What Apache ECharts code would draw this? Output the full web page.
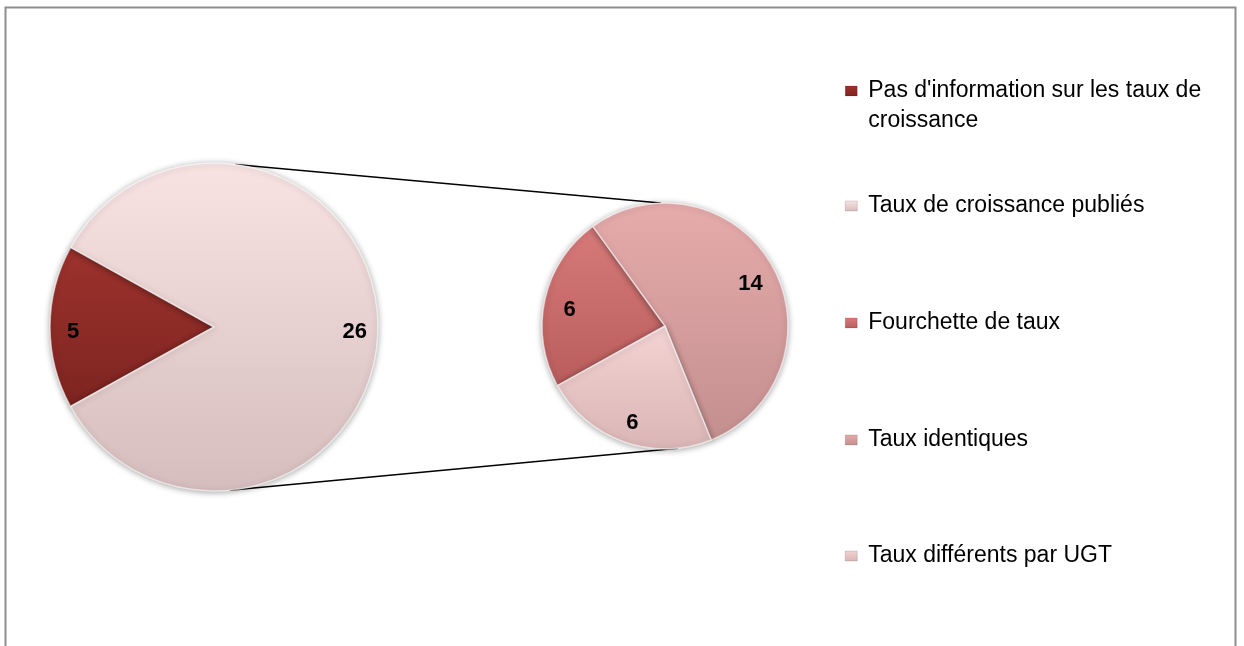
<!DOCTYPE html>
<html>
<head>
<meta charset="utf-8">
<script src="https://cdn.jsdelivr.net/npm/echarts@6/dist/echarts.min.js"></script>
<style>
  html, body { margin: 0; padding: 0; background: #ffffff; }
  #chart { width: 1244px; height: 646px; }
</style>
</head>
<body>
<div id="chart"></div>
<script>
// ---- Data ----
const primaryCategories = ["Pas d'information sur les taux de croissance", "Taux de croissance publiés"];
const primaryValues = [5, 26];
const secondaryCategories = ["Fourchette de taux", "Taux identiques", "Taux différents par UGT"];
const secondaryValues = [6, 14, 6];

// ---- Styles ----
const colorsTop = {
  "Pas d'information sur les taux de croissance": '#9c322d',
  "Taux de croissance publiés": '#f8e3e3',
  "Fourchette de taux": '#d77a7a',
  "Taux identiques": '#e6abab',
  "Taux différents par UGT": '#f3d3d3'
};
const colorsBottom = {
  "Pas d'information sur les taux de croissance": '#7e2420',
  "Taux de croissance publiés": '#d6bdbd',
  "Fourchette de taux": '#b85c5c',
  "Taux identiques": '#c48f8f',
  "Taux différents par UGT": '#dab5b5'
};
function grad(name) {
  return new echarts.graphic.LinearGradient(0, 0, 0, 1, [
    { offset: 0, color: colorsTop[name] },
    { offset: 1, color: colorsBottom[name] }
  ]);
}

const leftC = [214, 327], leftR = 164;
const rightC = [665, 326], rightR = 123;
const labelDy = 5;
function polar(c, r, deg) {
  const a = deg * Math.PI / 180;
  return [c[0] + r * Math.cos(a), c[1] - r * Math.sin(a)];
}

const FONT = "'Liberation Sans', Arial, sans-serif";
const sliceStyle = {
  borderColor: 'rgba(255,255,255,0.6)',
  borderWidth: 1.5,
  shadowBlur: 6,
  shadowColor: 'rgba(0,0,0,0.35)',
  shadowOffsetY: 1
};

function mkData(names, vals) {
  return names.map((n, i) => ({ name: n, value: vals[i], itemStyle: { color: grad(n) } }));
}
function mkLabelData(names, vals) {
  return names.map((n, i) => ({ name: n, value: vals[i] }));
}

const labelStyle = {
  show: true, position: 'inside', formatter: '{c}',
  color: '#000', fontFamily: FONT, fontWeight: 'bold', fontSize: 22
};

const allNames = primaryCategories.concat(secondaryCategories);
const legendCenters = [91, 206, 323, 440, 556];
const legends = allNames.map((n, i) => {
  const first = i === 0;
  return {
    orient: 'vertical',
    left: 845,
    top: first ? legendCenters[i] - 45 : legendCenters[i] - 14,
    padding: 0,
    itemWidth: 12,
    itemHeight: 10,
    icon: 'rect',
    selectedMode: false,
    data: [{ name: n, itemStyle: { color: grad(n), borderColor: 'rgba(0,0,0,0.25)', borderWidth: 0.5 } }],
    formatter: first ? (name => '\n' + name) : (name => name),
    textStyle: first ? {
      fontFamily: FONT, fontSize: 23, color: '#000', lineHeight: 30,
      width: 345, overflow: 'break', padding: [0, 0, 0, 6]
    } : {
      fontFamily: FONT, fontSize: 23, color: '#000', lineHeight: 28, padding: [0, 0, 0, 6]
    }
  };
});

const lt = polar(leftC, leftR, 82.5), rt = polar(rightC, rightR, 92);
const lb = polar(leftC, leftR, 275.5), rb = polar(rightC, rightR, 276);

const chart = echarts.init(document.getElementById('chart'), null, { renderer: 'canvas' });
chart.setOption({
  backgroundColor: '#ffffff',
  animation: false,
  legend: legends,
  graphic: [
    { type: 'rect', z: 0, shape: { x: 5.5, y: 7.5, width: 1230, height: 700 },
      style: { fill: 'none', stroke: '#8e8e8e', lineWidth: 2 } },
    { type: 'line', z: 0, shape: { x1: lt[0], y1: lt[1], x2: rt[0], y2: rt[1] },
      style: { stroke: '#000', lineWidth: 1.5 } },
    { type: 'line', z: 0, shape: { x1: lb[0], y1: lb[1], x2: rb[0], y2: rb[1] },
      style: { stroke: '#000', lineWidth: 1.5 } }
  ],
  series: [
    {
      type: 'pie', center: leftC, radius: [0, leftR], startAngle: 209, clockwise: true,
      label: { show: false }, labelLine: { show: false }, silent: true,
      itemStyle: sliceStyle,
      data: mkData(primaryCategories, primaryValues)
    },
    {
      type: 'pie', center: rightC, radius: [0, rightR], startAngle: 209, clockwise: true,
      label: { show: false }, labelLine: { show: false }, silent: true,
      itemStyle: sliceStyle,
      data: mkData(secondaryCategories, secondaryValues)
    },
    {
      type: 'pie', center: [leftC[0], leftC[1] + labelDy], radius: [leftR * 0.68, leftR], startAngle: 209, clockwise: true,
      silent: true, legendHoverLink: false, z: 3,
      itemStyle: { color: 'rgba(0,0,0,0)' },
      label: labelStyle, labelLine: { show: false },
      data: mkLabelData(primaryCategories, primaryValues)
    },
    {
      type: 'pie', center: [rightC[0], rightC[1] + labelDy], radius: [rightR * 0.54, rightR], startAngle: 209, clockwise: true,
      silent: true, legendHoverLink: false, z: 3,
      itemStyle: { color: 'rgba(0,0,0,0)' },
      label: labelStyle, labelLine: { show: false },
      data: mkLabelData(secondaryCategories, secondaryValues)
    }
  ]
});
</script>
</body>
</html>
